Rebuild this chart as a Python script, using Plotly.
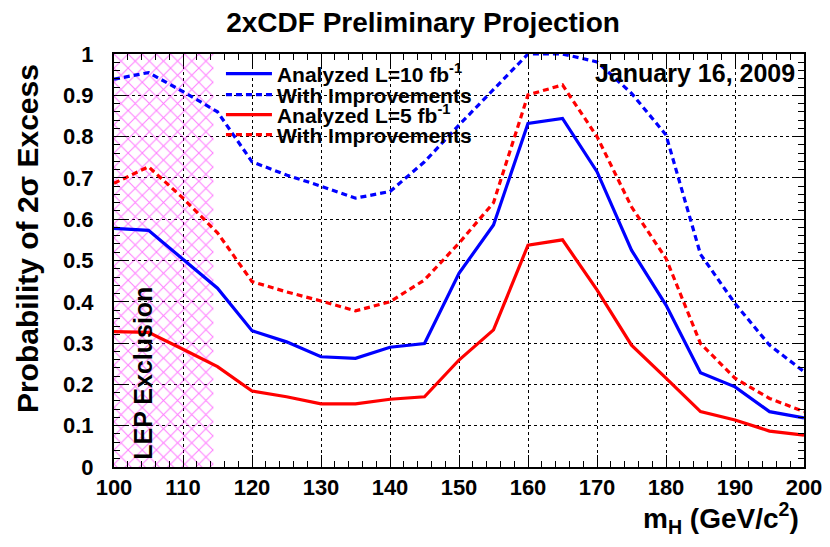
import plotly.graph_objects as go

mass = [100, 105, 110, 115, 120, 125, 130, 135, 140, 145, 150,
        155, 160, 165, 170, 175, 180, 185, 190, 195, 200]

analyzed_10 = [0.578, 0.573, 0.503, 0.433, 0.330, 0.303, 0.267, 0.263, 0.290, 0.299, 0.469,
               0.586, 0.832, 0.844, 0.715, 0.525, 0.392, 0.228, 0.194, 0.134, 0.119]
improved_10 = [0.939, 0.955, 0.909, 0.860, 0.739, 0.707, 0.680, 0.651, 0.667, 0.739, 0.828,
               0.913, 1.000, 1.000, 0.981, 0.905, 0.804, 0.515, 0.396, 0.295, 0.231]
analyzed_5 = [0.328, 0.326, 0.285, 0.243, 0.184, 0.170, 0.153, 0.153, 0.164, 0.170, 0.259,
              0.332, 0.537, 0.550, 0.429, 0.295, 0.215, 0.134, 0.114, 0.087, 0.077]
improved_5 = [0.687, 0.727, 0.651, 0.567, 0.449, 0.424, 0.402, 0.378, 0.400, 0.453, 0.542,
              0.640, 0.901, 0.925, 0.800, 0.630, 0.505, 0.299, 0.215, 0.166, 0.134]

lep_limit = 114.4
x_ticks = [100, 110, 120, 130, 140, 150, 160, 170, 180, 190, 200]
x_tick_labels = ["100", "110", "120", "130", "140", "150", "160", "170", "180", "190", "200"]
y_ticks = [0, 0.1, 0.2, 0.3, 0.4, 0.5, 0.6, 0.7, 0.8, 0.9, 1]
y_tick_labels = ["0", "0.1", "0.2", "0.3", "0.4", "0.5", "0.6", "0.7", "0.8", "0.9", "1"]

series_names = ["Analyzed L=10 fb<sup>-1</sup>", "With Improvements",
                "Analyzed L=5 fb<sup>-1</sup>", "With Improvements"]

FONT = "Liberation Sans, Arial, Helvetica, sans-serif"
BLUE = "#0000ff"
RED = "#ff0000"
DASH = "6px,4px"

fig = go.Figure()

# LEP exclusion hatched band
fig.add_trace(go.Scatter(
    x=[100, lep_limit, lep_limit, 100, 100], y=[0, 0, 1, 1, 0],
    mode="lines", fill="toself", line=dict(width=0),
    fillcolor="rgba(0,0,0,0)",
    fillpattern=dict(shape="x", fgcolor="#ff00ff", bgcolor="rgba(0,0,0,0)",
                     size=10, solidity=0.2),
    showlegend=False, hoverinfo="skip"))

series = [
    (analyzed_10, BLUE, "solid", "legend"),
    (improved_10, BLUE, DASH, "legend2"),
    (analyzed_5, RED, "solid", "legend3"),
    (improved_5, RED, DASH, "legend4"),
]
for (vals, col, dash, leg), name in zip(series, series_names):
    fig.add_trace(go.Scatter(x=mass, y=vals, mode="lines",
                             line=dict(color=col, width=3.2, dash=dash),
                             name="<b>" + name + "</b>", legend=leg))

bold_x = ["<b>%s</b>" % t for t in x_tick_labels]
bold_y = ["<b>%s</b>" % t for t in y_tick_labels]

axis_common = dict(
    showline=True, linecolor="black", linewidth=2, mirror="ticks",
    ticks="inside", ticklen=12, tickcolor="black", tickwidth=1,
    showgrid=True, gridcolor="black", gridwidth=1, griddash="dot",
    zeroline=False,
    tickfont=dict(family=FONT, size=22, color="black"),
)

fig.update_xaxes(range=[100, 200], tickvals=x_ticks, ticktext=bold_x,
                 minor=dict(dtick=2, ticks="inside", ticklen=6, tickcolor="black", showgrid=False),
                 **axis_common)
fig.update_yaxes(range=[0, 1], tickvals=y_ticks, ticktext=bold_y,
                 ticklabelstandoff=14,
                 minor=dict(dtick=0.02, ticks="inside", ticklen=6, tickcolor="black", showgrid=False),
                 **axis_common)

legend_font = dict(family=FONT, size=21, color="black", weight="bold")
legend_rows_y = [0.9516, 0.9007, 0.8523, 0.8039]
legend_layout = {}
for key, yy in zip(["legend", "legend2", "legend3", "legend4"], legend_rows_y):
    legend_layout[key] = dict(x=0.155, y=yy, xanchor="left", yanchor="middle",
                              bgcolor="rgba(0,0,0,0)", borderwidth=0,
                              itemwidth=46, font=legend_font)

fig.update_layout(
    width=830, height=547,
    margin=dict(l=106, r=34, t=46, b=88),
    paper_bgcolor="white", plot_bgcolor="white",
    title=dict(text="2xCDF Preliminary Projection", x=0.5, xanchor="center",
               xref="container", y=1 - 14 / 547, yanchor="middle",
               font=dict(family=FONT, size=28, color="black", weight="bold")),
    showlegend=True,
    **legend_layout,
)

fig.add_annotation(text="January 16, 2009", xref="paper", yref="paper",
                   x=0.99, y=0.954, xanchor="right", yanchor="middle", showarrow=False,
                   font=dict(family=FONT, size=25, color="black", weight="bold"))
fig.add_annotation(text="LEP Exclusion", xref="paper", yref="paper",
                   x=0.042, y=0.228, xanchor="center", yanchor="middle", showarrow=False,
                   textangle=-90,
                   font=dict(family=FONT, size=25, color="black", weight="bold"))
fig.add_annotation(text="Probability of 2σ Excess", xref="paper", yref="paper",
                   x=-0.126, y=0.552, xanchor="center", yanchor="middle", showarrow=False,
                   textangle=-90,
                   font=dict(family=FONT, size=30, color="black", weight="bold"))
fig.add_annotation(text="m<sub>H</sub> (GeV/c<sup>2</sup>)", xref="paper", yref="paper",
                   x=0.995, y=-0.123, xanchor="right", yanchor="middle", showarrow=False,
                   font=dict(family=FONT, size=28, color="black", weight="bold"))

fig.write_html("out.html")
